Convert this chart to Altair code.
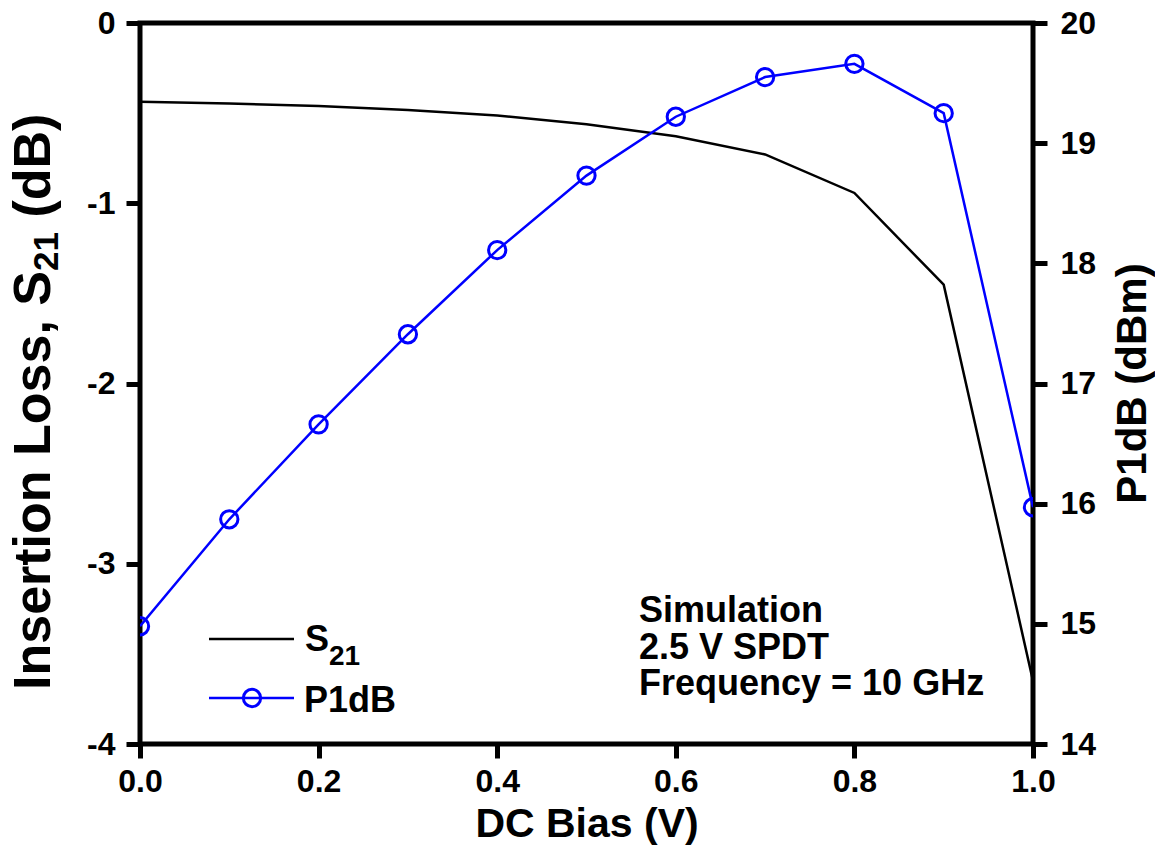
import altair as alt
import pandas as pd

# ---------------- data ----------------
dc_bias = [0.0, 0.1, 0.2, 0.3, 0.4, 0.5, 0.6, 0.7, 0.8, 0.9, 1.0]
s21_db = [-0.437, -0.447, -0.461, -0.483, -0.513, -0.562, -0.628, -0.729, -0.943, -1.452, -3.65]
p1db_dbm = [14.98, 15.87, 16.66, 17.41, 18.11, 18.73, 19.22, 19.55, 19.66, 19.25, 15.97]
x_ticks = [0.0, 0.2, 0.4, 0.6, 0.8, 1.0]
s21_ticks = [0, -1, -2, -3, -4]
p1db_ticks = [14, 15, 16, 17, 18, 19, 20]
note_lines = ["Simulation", "2.5 V SPDT", "Frequency = 10 GHz"]
legend_s21 = ["S", "21"]
legend_p1db = "P1dB"
left_title_parts = ["Insertion Loss, S", "21", "(dB)"]
x_title = "DC Bias (V)"
right_title = "P1dB (dBm)"

# ---------------- style / layout ----------------
FONT = "Liberation Sans"
BLUE = "#0000FF"
W, H = 893, 721
OX, OY = 140, 23  # plot-area origin in page pixels (page margin 8)

df = pd.DataFrame({"bias": dc_bias, "s21": s21_db, "p1db": p1db_dbm})

x_enc = alt.X(
    "bias:Q",
    scale=alt.Scale(domain=[0, 1], nice=False, zero=False),
    axis=alt.Axis(values=x_ticks, format=".1f", title=x_title, titleFontSize=41,
                  titleY=92, titleBaseline="alphabetic", labelPadding=8, labelFlush=False),
)

s21_line = alt.Chart(df).mark_line(color="black", strokeWidth=2.5).encode(
    x=x_enc,
    y=alt.Y("s21:Q", scale=alt.Scale(domain=[-4, 0], nice=False, zero=False),
            axis=alt.Axis(orient="left", values=s21_ticks, labelExpr="'' + datum.value",
                          title="", labelPadding=11, labelFlush=False)),
)

p_y = alt.Y(
    "p1db:Q",
    scale=alt.Scale(domain=[14, 20], nice=False, zero=False),
    axis=alt.Axis(orient="right", values=p1db_ticks, title=right_title, titleAngle=270,
                  titleX=112, titleY=360, titleBaseline="alphabetic", titleAlign="center",
                  titleFontSize=42, labelPadding=13, labelFlush=False),
)
p_line = alt.Chart(df).mark_line(color=BLUE, strokeWidth=2.5, clip=True).encode(x=x_enc, y=p_y)
p_pts = alt.Chart(df).mark_point(shape="circle", filled=False, color=BLUE, size=300,
                                 strokeWidth=3, opacity=1, clip=True).encode(x=x_enc, y=p_y)
p_layer = alt.layer(p_line, p_pts)


def text_layer(label, px, py, size, angle=0):
    return alt.Chart(alt.Data(values=[{"label": label}])).mark_text(
        font=FONT, fontWeight="bold", fontSize=size, angle=angle, align="left",
        baseline="alphabetic", color="black",
    ).encode(text="label:N", x=alt.value(px - OX), y=alt.value(py - OY))


def rule_layer(x1, x2, py, color):
    return alt.Chart(alt.Data(values=[{"k": 1}])).mark_rule(color=color, strokeWidth=2.5).encode(
        x=alt.value(x1 - OX), x2=alt.value(x2 - OX), y=alt.value(py - OY))


extras = []
# annotation block
for i, line in enumerate(note_lines):
    extras.append(text_layer(line, 639, 622 + i * 36.5, 36))

# manual legend
extras.append(rule_layer(209, 294, 639, "black"))
extras.append(text_layer(legend_s21[0], 305, 651, 36))
extras.append(text_layer(legend_s21[1], 305 + 0.667 * 36, 665, 28))
extras.append(rule_layer(209, 294, 698, BLUE))
extras.append(
    alt.Chart(alt.Data(values=[{"k": 1}])).mark_point(
        shape="circle", filled=False, color=BLUE, size=300, strokeWidth=3, opacity=1
    ).encode(x=alt.value(252 - OX), y=alt.value(698 - OY))
)
extras.append(text_layer(legend_p1db, 304, 711.5, 36))

# rotated left title with subscript (Arial-bold advance widths)
TF, SF = 52, 35
bx = 50
y0 = 690
w1 = 8.058 * TF
w2 = 1.112 * SF
wsp = 0.278 * TF
extras.append(text_layer(left_title_parts[0], bx, y0, TF, angle=270))
extras.append(text_layer(left_title_parts[1], bx + 8, y0 - w1, SF, angle=270))
extras.append(text_layer(left_title_parts[2], bx, y0 - w1 - w2 - wsp, TF, angle=270))

chart = (
    alt.layer(s21_line, p_layer, *extras)
    .resolve_scale(y="independent")
    .properties(
        width=W, height=H,
        autosize=alt.AutoSizeParams(type="none"),
        padding={"left": OX - 8, "top": OY - 8, "right": 1147 - (OX - 8) - W, "bottom": 101},
    )
    .configure_view(stroke="black", strokeWidth=5)
    .configure_axis(
        labelFont=FONT, labelFontWeight="bold", labelFontSize=32, labelColor="black",
        titleFont=FONT, titleFontWeight="bold", titleColor="black",
        tickColor="black", tickWidth=5, tickSize=14, domain=False, grid=False,
    )
)

chart.save("out.html", embed_options={"renderer": "svg", "actions": False})
